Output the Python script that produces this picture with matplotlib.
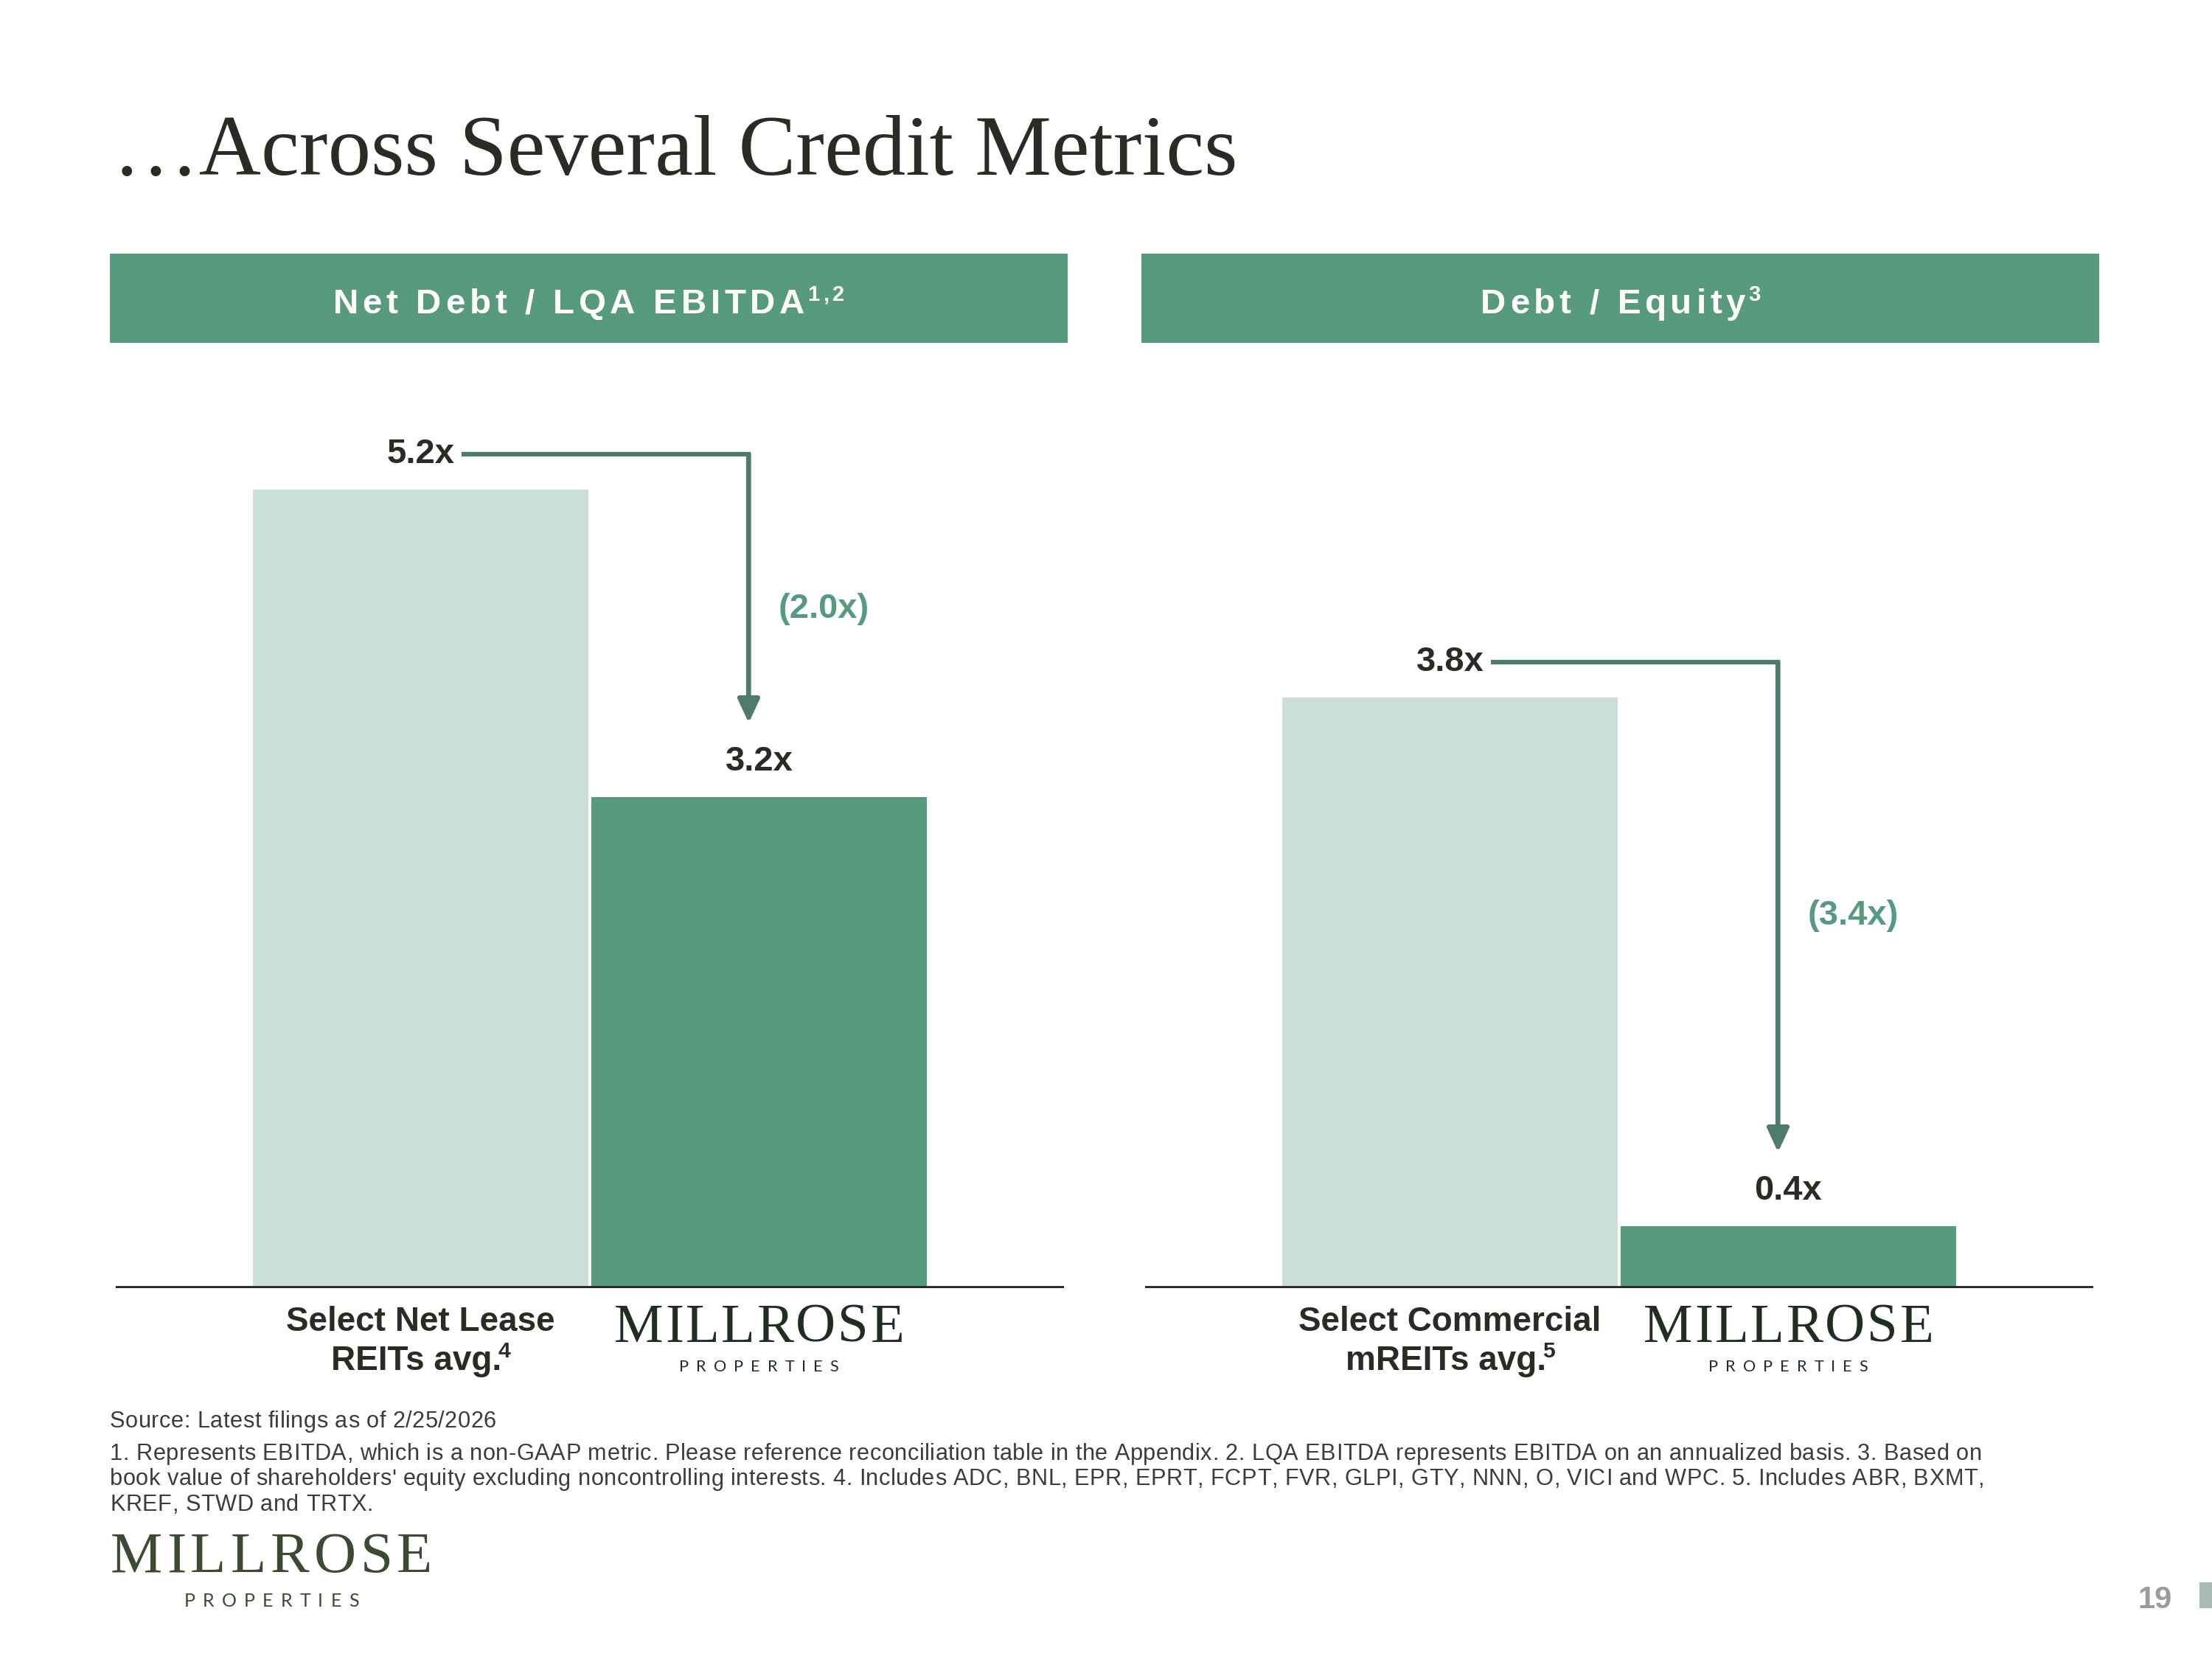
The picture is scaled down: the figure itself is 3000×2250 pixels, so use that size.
#!/usr/bin/env python3
import matplotlib
matplotlib.use("Agg")
import matplotlib.pyplot as plt
from matplotlib import font_manager
from matplotlib.ft2font import FT2Font
from matplotlib.patches import Rectangle

W, H, DPI = 3000, 2250, 300

TITLE = "\u2026Across Several Credit Metrics"
PANEL_TITLES = ["Net Debt / LQA EBITDA", "Debt / Equity"]
PANEL_TITLE_NOTES = ["1,2", "3"]
PEER_NAMES = [["Select Net Lease", "REITs avg."], ["Select Commercial", "mREITs avg."]]
PEER_NOTES = ["4", "5"]
PEER_VALUES = [5.2, 3.8]
MILLROSE_VALUES = [3.2, 0.4]
SOURCE = "Source: Latest filings as of 2/25/2026"
FOOTNOTES = [
    "1. Represents EBITDA, which is a non-GAAP metric. Please reference reconciliation table in the "
    "Appendix. 2. LQA EBITDA represents EBITDA on an annualized basis. 3. Based on",
    "book value of shareholders' equity excluding noncontrolling interests. 4. Includes ADC, BNL, EPR, "
    "EPRT, FCPT, FVR, GLPI, GTY, NNN, O, VICI and WPC. 5. Includes ABR, BXMT,",
    "KREF, STWD and TRTX.",
]
PAGE = "19"

SANS = "Liberation Sans"
SERIF = "Liberation Serif"
THIN = "Lato"

GREEN = "#579a7e"
LIGHT = "#cbdfd9"
ARROW = "#4f7b6c"
TEXT = "#2b2a25"
LOGO_DARK = "#1f2e20"
LOGO_OLIVE = "#3b4a30"
NOTE_GRAY = "#3c3c3c"

# layout, pixels from the top-left corner
AX_X = [157, 1553]
AX_W = 1286
AX_TOP, AX_BOTTOM = 560, 1747
YMAX = [5.70, 5.63]
DELTA_DROP = [40, 24]
BOX_X = [149, 1548]
BOX_W = 1299
BOX_TOP, BOX_BOTTOM = 344, 465

_fonts = {}


def advances(text, family, weight, size):
    key = (family, weight)
    if key not in _fonts:
        path = font_manager.findfont(font_manager.FontProperties(family=family, weight=weight))
        _fonts[key] = FT2Font(path, hinting_factor=1)
    font = _fonts[key]
    font.set_size(size, DPI)
    return [font.load_char(ord(c)).linearHoriAdvance / 65536.0 for c in text]


def fit_track(text, family, weight, size, target):
    return (target - sum(advances(text, family, weight, size))) / (len(text) - 1)


def put_text(fig, x, y, runs, ha="left"):
    # runs: (text, size, weight, family, color, tracking px, rise px, shift px); y is the baseline
    laid = []
    total = 0.0
    for text, size, weight, family, color, track, rise, shift in runs:
        adv = advances(text, family, weight, size)
        laid.append((text, adv, size, weight, family, color, track, rise, shift))
        total += sum(adv) + track * len(text) + shift
    total -= runs[-1][5]
    pen = x - {"left": 0.0, "center": total / 2, "right": total}[ha]
    for text, adv, size, weight, family, color, track, rise, shift in laid:
        pen += shift
        kw = dict(fontsize=size, fontweight=weight, family=family, color=color,
                  ha="left", va="baseline")
        if track == 0:
            fig.text(pen / W, 1 - (y - rise) / H, text, **kw)
            pen += sum(adv)
            continue
        for ch, a in zip(text, adv):
            if not ch.isspace():
                fig.text(pen / W, 1 - (y - rise) / H, ch, **kw)
            pen += a + track
    return total


def draw_logo(fig, cx, base_main, base_sub, main_w, sub_w, main_size, sub_size, color):
    tr = fit_track("MILLROSE", SERIF, "normal", main_size, main_w)
    put_text(fig, cx, base_main, [("MILLROSE", main_size, "normal", SERIF, color, tr, 0, 0)],
             ha="center")
    tr = fit_track("PROPERTIES", THIN, "normal", sub_size, sub_w)
    put_text(fig, cx, base_sub, [("PROPERTIES", sub_size, "normal", THIN, color, tr, 0, 0)],
             ha="center")


fig = plt.figure(figsize=(W / DPI, H / DPI), dpi=DPI, facecolor="white")

fig.text(153 / W, 1 - 237 / H, TITLE, fontsize=28.0, family=SERIF, color=TEXT,
         ha="left", va="baseline")

for i in range(2):
    fig.add_artist(Rectangle((BOX_X[i] / W, 1 - BOX_BOTTOM / H), BOX_W / W,
                             (BOX_BOTTOM - BOX_TOP) / H, transform=fig.transFigure,
                             color=GREEN, lw=0))
    put_text(fig, BOX_X[i] + BOX_W / 2, 425, [
        (PANEL_TITLES[i], 11.4, "bold", SANS, "white", 6, 0, 0),
        (PANEL_TITLE_NOTES[i], 7.0, "bold", SANS, "white", 5, 17, -2),
    ], ha="center")

    ax = fig.add_axes([AX_X[i] / W, 1 - AX_BOTTOM / H, AX_W / W, (AX_BOTTOM - AX_TOP) / H])
    ax.set_xlim(-0.901, 1.901)
    ax.set_ylim(0, YMAX[i])
    ax.set_axis_off()
    ax.axhline(0, color=TEXT, lw=1.4, zorder=5)

    peer, mine = PEER_VALUES[i], MILLROSE_VALUES[i]
    ax.bar([0, 1], [peer, mine], width=0.99, color=[LIGHT, GREEN], zorder=2)

    ppu = ax.transData.transform((1, 1)) - ax.transData.transform((0, 0))

    def dx(p):
        return p / ppu[0]

    def dy(p):
        return p / ppu[1]

    label_kw = dict(fontsize=11.3, fontweight="bold", family=SANS, ha="center", va="baseline")
    peer_label = f"{peer:.1f}x"
    ax.text(0, peer + dy(36), peer_label, color=TEXT, **label_kw)
    ax.text(1, mine + dy(36), f"{mine:.1f}x", color=TEXT, **label_kw)

    # elbow arrow from the peer label down to the Millrose bar
    half = sum(advances(peer_label, SANS, "bold", 11.3)) / 2
    x_arrow = 1 - dx(14)
    y_top = peer + dy(48)
    y_tip = mine + dy(100)
    ax.plot([dx(half + 10), x_arrow, x_arrow], [y_top, y_top, y_tip + dy(20)],
            color=ARROW, lw=1.5, solid_joinstyle="miter", solid_capstyle="butt", zorder=3)
    ax.annotate("", xy=(x_arrow, y_tip), xytext=(x_arrow, y_top),
                arrowprops=dict(arrowstyle="-|>,head_length=0.65,head_width=0.3",
                                mutation_scale=10, lw=1.5, color=ARROW,
                                shrinkA=0, shrinkB=0), zorder=3)
    ax.text(x_arrow + dx(40), (y_top + y_tip) / 2 - dy(DELTA_DROP[i]), f"({peer - mine:.1f}x)",
            color=GREEN, **{**label_kw, "ha": "left"})

    # category labels under the baseline
    cx_peer = ax.transData.transform((0, 0))[0]
    cx_mine = ax.transData.transform((1, 0))[0]
    put_text(fig, cx_peer, 1805, [(PEER_NAMES[i][0], 11.0, "bold", SANS, TEXT, 0, 0, 0)],
             ha="center")
    put_text(fig, cx_peer, 1858, [
        (PEER_NAMES[i][1], 11.0, "bold", SANS, TEXT, 0, 0, 0),
        (PEER_NOTES[i], 7.2, "bold", SANS, TEXT, 0, 17, -9),
    ], ha="center")
    draw_logo(fig, cx_mine, 1820, 1860, 394, 216, 18.0, 5.2, LOGO_DARK)

# footer
note_size = 7.4
track = fit_track(FOOTNOTES[0], SANS, "normal", note_size, 2539)
put_text(fig, 149, 1936, [(SOURCE, note_size, "normal", SANS, NOTE_GRAY, track, 0, 0)])
for j, line in enumerate(FOOTNOTES):
    put_text(fig, 149, 1980 + j * 34.5, [(line, note_size, "normal", SANS, NOTE_GRAY, track, 0, 0)])

draw_logo(fig, 368, 2132, 2179, 437, 237, 19.0, 6.0, LOGO_OLIVE)

fig.text(2946 / W, 1 - 2181 / H, PAGE, fontsize=10, fontweight="bold", family=SANS,
         color="#9b9b9b", ha="right", va="baseline")
fig.add_artist(Rectangle((2983 / W, 1 - 2181 / H), 17 / W, 35 / H,
                         transform=fig.transFigure, color="#a7b9b2", lw=0))

fig.savefig("out.png", dpi=DPI, facecolor="white")
